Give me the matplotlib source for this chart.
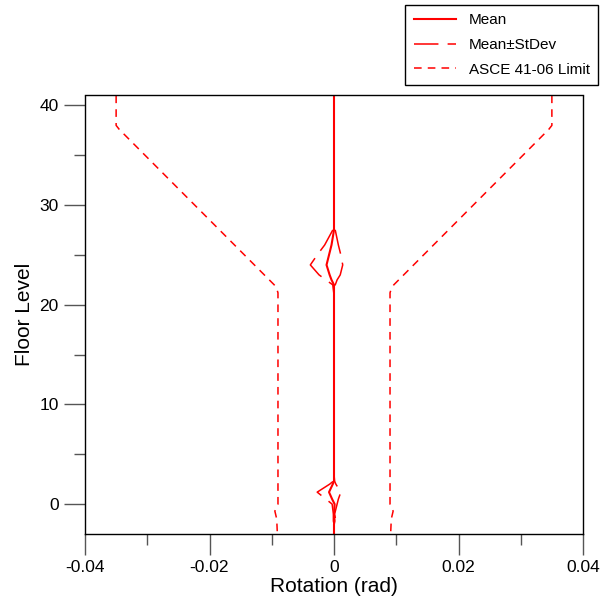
import numpy as np
import matplotlib
matplotlib.use("Agg")
import matplotlib.pyplot as plt
from matplotlib.ticker import MultipleLocator

plt.rcParams['font.family'] = ['Liberation Sans', 'DejaVu Sans']

# floor levels and rotation stats (rad)
floors = [41, 28, 27.5, 26, 25, 24, 23, 22.5, 22, 21, 3, 2.3, 2, 1.2, 0.5, 0, -1, -1.7, -2, -3]
mean = [0, 0, 0, -0.0004, -0.0008, -0.0012, -0.0007, -0.0004, 0, 0,
        0, 0, -0.0002, -0.0008, -0.0003, 0.0001, 0, 0.0001, 0, 0]
stdev = [0, 0, 0.0002, 0.0011, 0.0019, 0.0026, 0.0017, 0.0009, 0.0002, 0,
         0, 0.0001, 0.0005, 0.0019, 0.0010, 0.0004, 0.0001, 0.0002, 0, 0]

# ASCE 41-06 limit
lim_floors = [41, 38, 37.6, 22.0, 21.6, 21.2, 0, -0.7, -1.5, -3]
lim_rot = [0.035, 0.035, 0.0345, 0.0096, 0.0092, 0.0090, 0.0090, 0.0095, 0.0092, 0.0091]

mean = np.array(mean)
stdev = np.array(stdev)
lim_rot = np.array(lim_rot)

fig = plt.figure(figsize=(6.04, 5.98), dpi=100)
ax = fig.add_axes([85/604, 64/598, 498/604, 438.5/598])

red = '#ff0000'
ax.plot(mean, floors, color=red, lw=1.5, label='Mean')
ax.plot(mean + stdev, floors, color=red, lw=1.1, dashes=(16, 6), label='Mean\u00b1StDev')
ax.plot(mean - stdev, floors, color=red, lw=1.1, dashes=(16, 6))
ax.plot(-lim_rot, lim_floors, color=red, lw=1.1, dashes=(5, 4), label='ASCE 41-06 Limit')
ax.plot(lim_rot, lim_floors, color=red, lw=1.1, dashes=(5, 4))

ax.set_xlim(-0.04, 0.04)
ax.set_ylim(-3, 41)
ax.xaxis.set_minor_locator(MultipleLocator(0.01))
ax.yaxis.set_major_locator(MultipleLocator(10))
ax.yaxis.set_minor_locator(MultipleLocator(5))
ax.set_xticks([-0.04, -0.02, 0, 0.02, 0.04])
ax.set_xticklabels(['-0.04', '-0.02', '0', '0.02', '0.04'])
ax.tick_params(which='major', direction='out', length=15, width=1, color='#555555',
               labelsize=12.5, pad=4)
ax.tick_params(which='minor', direction='out', length=8, width=1, color='#555555')
for s in ax.spines.values():
    s.set_linewidth(1.0)

ax.set_xlabel('Rotation (rad)', fontsize=15, labelpad=1)
ax.set_ylabel('Floor Level', fontsize=15, labelpad=4)

fig.legend(loc='upper right', bbox_to_anchor=(598/604, 1 - 5/598), borderaxespad=0,
           fontsize=11, handlelength=2.8, frameon=True, fancybox=False,
           edgecolor='black', framealpha=1, borderpad=0.55, labelspacing=0.7)

fig.savefig('out.png', dpi=100)
